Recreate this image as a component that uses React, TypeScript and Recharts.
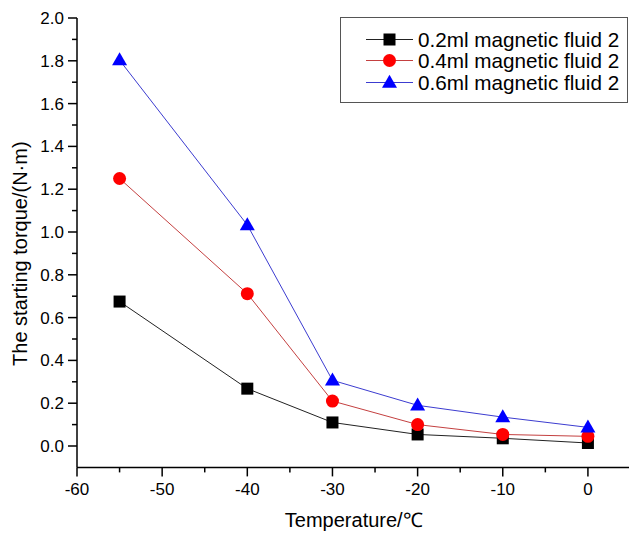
import React from 'react';
import { LineChart, Line, XAxis, YAxis, Label } from 'recharts';

// temperatures (°C) and starting torque (N·m)
const temperatures = [-55, -40, -30, -20, -10, 0];
const torque02 = [0.675, 0.268, 0.11, 0.054, 0.036, 0.014];
const torque04 = [1.25, 0.712, 0.21, 0.1, 0.054, 0.045];
const torque06 = [1.803, 1.033, 0.307, 0.19, 0.135, 0.087];

const xTicks = [-60, -55, -50, -45, -40, -35, -30, -25, -20, -15, -10, -5, 0];
const yTicks = [0, 0.1, 0.2, 0.3, 0.4, 0.5, 0.6, 0.7, 0.8, 0.9, 1.0, 1.1, 1.2, 1.3, 1.4, 1.5, 1.6, 1.7, 1.8, 1.9, 2.0];

const seriesNames = ['0.2ml magnetic fluid 2', '0.4ml magnetic fluid 2', '0.6ml magnetic fluid 2'];

const FONT = '"Liberation Sans", Arial, sans-serif';

const chartData = temperatures.map((t, i) => ({
  t,
  s02: torque02[i],
  s04: torque04[i],
  s06: torque06[i]
}));

const Square = ({ cx, cy, size = 12 }: any) => (
  <rect x={cx - size / 2} y={cy - size / 2} width={size} height={size} fill="#000" />
);
const Circle = ({ cx, cy, r = 6.5 }: any) => <circle cx={cx} cy={cy} r={r} fill="#ff0000" />;
const Triangle = ({ cx, cy, w = 15, h = 13 }: any) => (
  <polygon
    points={`${cx},${cy - h * 0.6} ${cx + w / 2},${cy + h * 0.4} ${cx - w / 2},${cy + h * 0.4}`}
    fill="#0000ff"
  />
);

const series = [
  { key: 's02', name: seriesNames[0], line: '#222222', Marker: Square },
  { key: 's04', name: seriesNames[1], line: '#c44040', Marker: Circle },
  { key: 's06', name: seriesNames[2], line: '#3c3cd0', Marker: Triangle }
];

const YTick = ({ x, y, payload }: any) => {
  const major = Math.round(payload.value * 10) % 2 === 0;
  return (
    <g>
      <line x1={x - (major ? 9 : 5)} x2={x} y1={y} y2={y} stroke="#000" strokeWidth={1.5} />
      {major && (
        <text x={x - 13} y={y} dy={6} textAnchor="end" fontSize={17} fontFamily={FONT} fill="#000">
          {payload.value.toFixed(1)}
        </text>
      )}
    </g>
  );
};

const XTick = ({ x, y, payload }: any) => {
  const major = payload.value % 10 === 0;
  return (
    <g>
      <line x1={x} x2={x} y1={y} y2={y + (major ? 9 : 5)} stroke="#000" strokeWidth={1.5} />
      {major && (
        <text x={x} y={y + 28} textAnchor="middle" fontSize={17} fontFamily={FONT} fill="#000">
          {payload.value}
        </text>
      )}
    </g>
  );
};

const YTitle = ({ viewBox }: any) => {
  const cx = viewBox.x + 27;
  const cy = viewBox.y + viewBox.height / 2 + 11;
  return (
    <text x={cx} y={cy} transform={`rotate(-90, ${cx}, ${cy})`} textAnchor="middle" fontSize={20} fontFamily={FONT} fill="#000">
      The starting torque/(N·m)
    </text>
  );
};

const XTitle = ({ viewBox }: any) => (
  <text x={viewBox.x + viewBox.width / 2} y={viewBox.y + 60} textAnchor="middle" fontSize={20} fontFamily={FONT} fill="#000">
    Temperature/℃
  </text>
);

export default function App() {
  return (
    <div style={{ position: 'absolute', left: 0, top: 0, width: 629, height: 534, overflow: 'hidden', background: '#fff' }}>
      <LineChart width={640} height={534} data={chartData} margin={{ top: 18, right: 9.5, left: 0, bottom: 0 }}>
        <XAxis
          dataKey="t"
          type="number"
          domain={[-60, 5]}
          ticks={xTicks}
          interval={0}
          height={66.6}
          tickSize={0}
          tickMargin={0}
          tickLine={false}
          tick={<XTick />}
          axisLine={{ stroke: '#000', strokeWidth: 1.5 }}
        >
          <Label content={<XTitle />} />
        </XAxis>
        <YAxis
          type="number"
          domain={[-0.1, 2.0]}
          ticks={yTicks}
          interval={0}
          width={77}
          tickSize={0}
          tickMargin={0}
          tickLine={false}
          tick={<YTick />}
          axisLine={{ stroke: '#000', strokeWidth: 1.5 }}
        >
          <Label content={<YTitle />} />
        </YAxis>
        {series.map((s) => (
          <Line
            key={s.key}
            dataKey={s.key}
            name={s.name}
            stroke={s.line}
            strokeWidth={1}
            isAnimationActive={false}
            dot={(p: any) => <s.Marker key={`${s.key}-${p.index}`} cx={p.cx} cy={p.cy} />}
            activeDot={false}
          />
        ))}
      </LineChart>
      <div
        style={{
          position: 'absolute',
          left: 340,
          top: 17,
          width: 286,
          height: 84,
          border: '1px solid #555',
          background: '#fff',
          fontFamily: FONT
        }}
      >
        {series.map((s, i) => (
          <div key={s.key} style={{ position: 'absolute', left: 0, top: 11 + i * 21.3, height: 21, width: 286 }}>
            <svg width={50} height={21} style={{ position: 'absolute', left: 24, top: 0 }}>
              <line x1={1} x2={48} y1={10.5} y2={10.5} stroke={s.line} strokeWidth={1} />
              <s.Marker cx={24.5} cy={10.5} />
            </svg>
            <span style={{ position: 'absolute', left: 77, top: -1, fontSize: 20.7, lineHeight: '23px', color: '#000', whiteSpace: 'nowrap' }}>
              {s.name}
            </span>
          </div>
        ))}
      </div>
    </div>
  );
}
